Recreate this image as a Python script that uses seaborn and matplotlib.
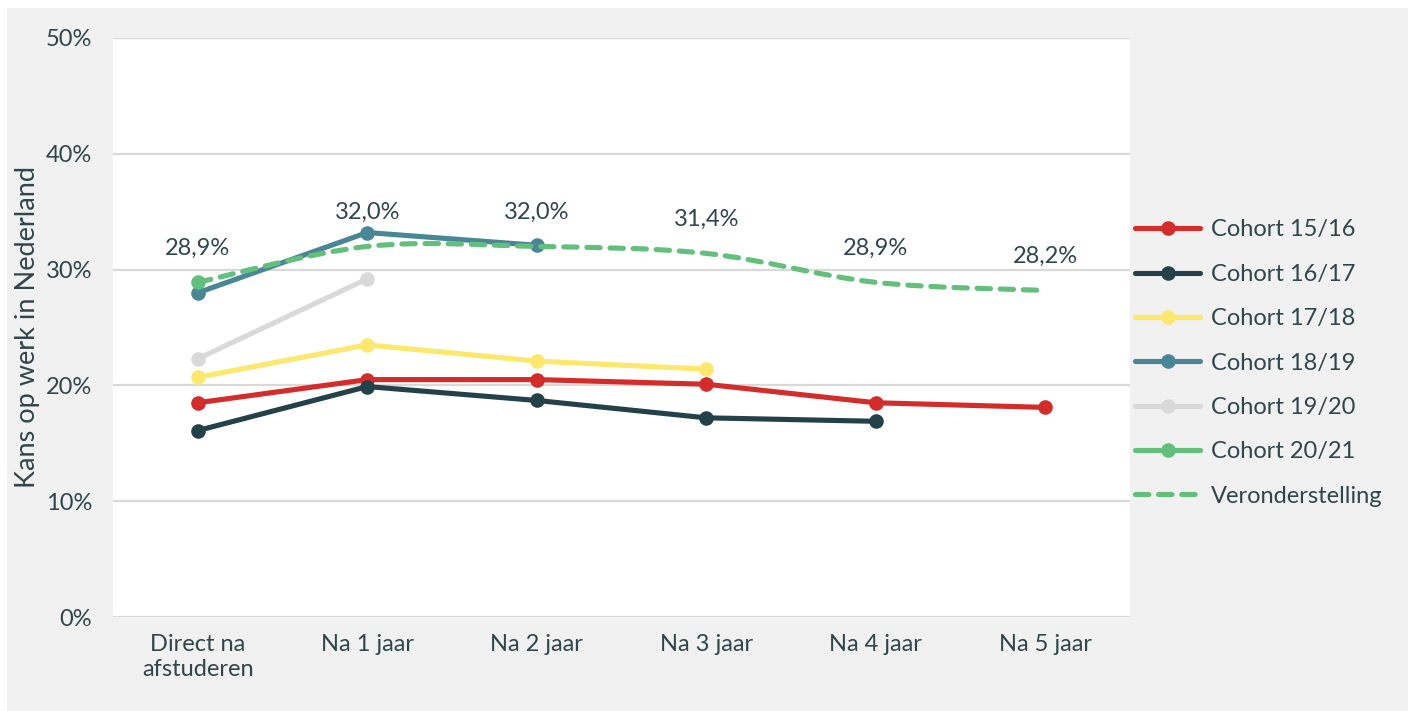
import numpy as np
import pandas as pd
import matplotlib
matplotlib.use("Agg")
import matplotlib.pyplot as plt
from matplotlib.path import Path
from matplotlib.patches import PathPatch, Rectangle
from matplotlib.lines import Line2D
import seaborn as sns

periods = ["Direct na\nafstuderen", "Na 1 jaar", "Na 2 jaar", "Na 3 jaar", "Na 4 jaar", "Na 5 jaar"]
cohort_15_16 = [18.5, 20.5, 20.5, 20.1, 18.5, 18.1]
cohort_16_17 = [16.1, 19.9, 18.7, 17.2, 16.9, None]
cohort_17_18 = [20.7, 23.5, 22.1, 21.4, None, None]
cohort_18_19 = [28.0, 33.2, 32.1, None, None, None]
cohort_19_20 = [22.3, 29.2, None, None, None, None]
cohort_20_21 = [28.9, None, None, None, None, None]
veronderstelling = [28.9, 32.0, 32.0, 31.4, 28.9, 28.2]

cohort_names = ["Cohort 15/16", "Cohort 16/17", "Cohort 17/18", "Cohort 18/19", "Cohort 19/20", "Cohort 20/21"]
cohort_values = [cohort_15_16, cohort_16_17, cohort_17_18, cohort_18_19, cohort_19_20, cohort_20_21]
colors = ["#d42b2b", "#24414a", "#fbe86c", "#4a8796", "#d9d9d9", "#63bf7c"]

TEXT = "#2f464d"
FS = 17
sns.set_theme(style="white")
plt.rcParams["font.family"] = ["Lato", "DejaVu Sans"]

rows = []
for name, vals in zip(cohort_names, cohort_values):
    for i, v in enumerate(vals):
        if v is not None:
            rows.append({"pos": i, "val": v, "cohort": name})
df = pd.DataFrame(rows)

fig = plt.figure(figsize=(14.1, 7.11), dpi=100, facecolor="white")
fig.patches.append(Rectangle((7 / 1410, 0), 1401 / 1410, 703 / 711, transform=fig.transFigure,
                             facecolor="#f1f1f1", edgecolor="none", zorder=-10))
ax = fig.add_axes([113 / 1410, (711 - 617) / 711, (1130 - 113) / 1410, (617 - 38) / 711])
ax.set_facecolor("white")

sns.lineplot(data=df, x="pos", y="val", hue="cohort", hue_order=cohort_names, palette=colors,
             marker="o", markersize=10.5, markeredgewidth=0, linewidth=3.7, sort=False,
             legend=False, ax=ax, zorder=3)

# smooth dashed line (Catmull-Rom bezier through data points)
xs = np.arange(len(veronderstelling), dtype=float)
ys = np.array(veronderstelling, dtype=float)
verts = [(xs[0], ys[0])]
codes = [Path.MOVETO]
n = len(xs)
for i in range(n - 1):
    p0 = np.array([xs[max(i - 1, 0)], ys[max(i - 1, 0)]])
    p1 = np.array([xs[i], ys[i]])
    p2 = np.array([xs[i + 1], ys[i + 1]])
    p3 = np.array([xs[min(i + 2, n - 1)], ys[min(i + 2, n - 1)]])
    c1 = p1 + (p2 - p0) / 6
    c2 = p2 - (p3 - p1) / 6
    verts += [tuple(c1), tuple(c2), tuple(p2)]
    codes += [Path.CURVE4] * 3
patch = PathPatch(Path(verts, codes), facecolor="none", edgecolor="#63bf7c", linewidth=3.7,
                  linestyle=(0, (2.6, 1.9)), capstyle="round", zorder=5)
ax.add_patch(patch)

for i, v in enumerate(veronderstelling):
    ax.annotate(f"{v:.1f}%".replace(".", ","), (i, v), xytext=(0, 24.5), textcoords="offset points",
                ha="center", va="center", fontsize=FS, color=TEXT, zorder=6)

ax.set_xlim(-0.5, 5.5)
ax.set_ylim(0, 50)
ax.set_yticks(range(0, 51, 10))
ax.set_yticklabels([f"{t}%" for t in range(0, 51, 10)])
ax.set_xticks(range(len(periods)))
ax.set_xticklabels(periods, linespacing=1.25)
ax.grid(axis="y", color="#d9d9d9", linewidth=1.6, zorder=0)
ax.set_axisbelow(True)
for s in ax.spines.values():
    s.set_visible(False)
ax.tick_params(axis="both", length=0, labelsize=FS, labelcolor=TEXT)
ax.tick_params(axis="y", pad=15)
ax.tick_params(axis="x", pad=12)
ax.set_xlabel("")
ax.set_ylabel("Kans op werk in Nederland", fontsize=19.5, color=TEXT)
ax.yaxis.set_label_coords(-73 / 1017, 0.5)

handles = [Line2D([], [], color=c, marker="o", markersize=10.5, markeredgewidth=0, linewidth=3.7,
                  solid_capstyle="round") for c in colors]
handles.append(Line2D([], [], color="#63bf7c", linewidth=3.7, linestyle=(0, (2.6, 1.9)),
                      dash_capstyle="round"))
labels = cohort_names + ["Veronderstelling"]
leg = fig.legend(handles, labels, loc="upper left", bbox_to_anchor=(1126 / 1410, 1 - 210 / 711),
                 frameon=False, fontsize=FS, labelcolor=TEXT, handlelength=2.75,
                 handletextpad=0.45, labelspacing=0.99, borderaxespad=0)

fig.savefig("out.png", dpi=100, facecolor=fig.get_facecolor())
